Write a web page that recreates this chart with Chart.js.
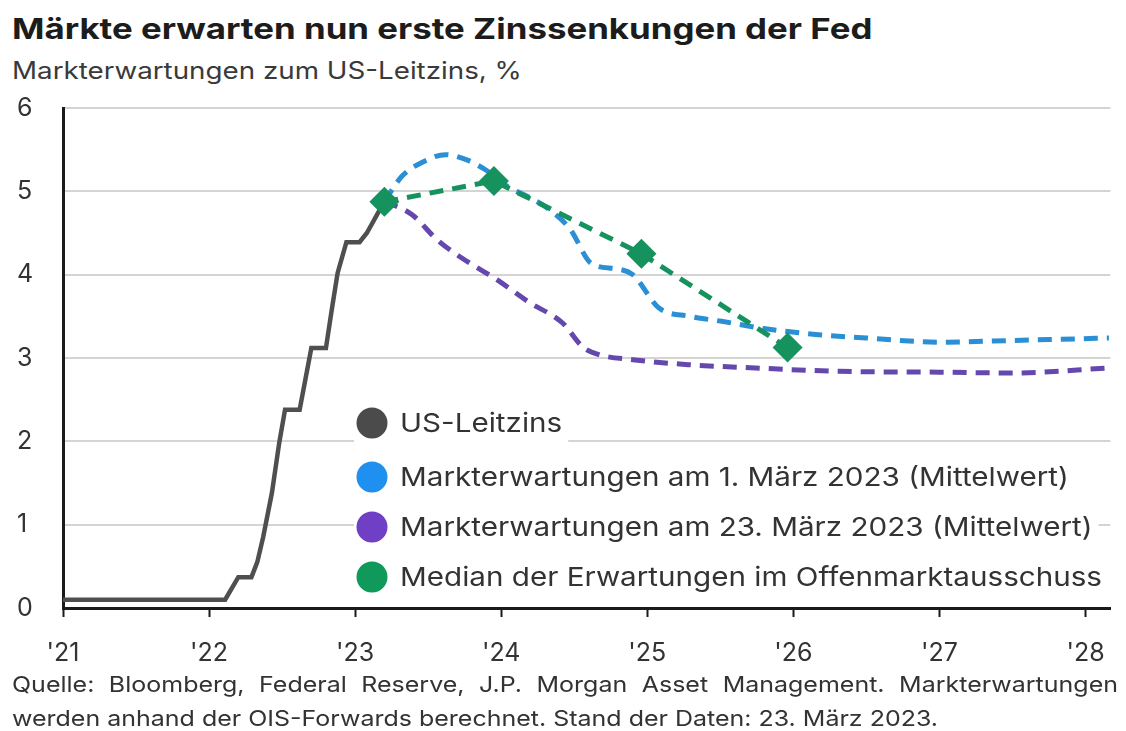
<!DOCTYPE html>
<html lang="de">
<head>
<meta charset="utf-8">
<title>Märkte erwarten nun erste Zinssenkungen der Fed</title>
<script src="https://cdn.jsdelivr.net/npm/chart.js@4.4.1/dist/chart.umd.min.js"></script>
<style>
  html, body { margin: 0; padding: 0; background: #fff; }
  body { width: 1126px; height: 731px; position: relative; overflow: hidden; font-family: Inter, "Noto Sans", sans-serif; color: #2b2b2b; }
  .fit { position: absolute; left: 12px; white-space: nowrap; transform-origin: 0 0; }
  #titel { top: 11px; font-size: 29px; font-weight: 700; color: #1c1c1c; }
  #untertitel { top: 56px; font-size: 24px; color: #3a3a3a; }
  #wrap { position: absolute; left: 0; top: 0; width: 1126px; height: 731px; }
  #fuss { position: absolute; left: 12px; top: 667px; font-size: 22px; line-height: 34px; color: #333; transform-origin: 0 0; }
  #zeile1 { text-align: justify; text-align-last: justify; white-space: nowrap; }
  #zeile2 { white-space: nowrap; }
</style>
</head>
<body>
<div id="titel" class="fit">Märkte erwarten nun erste Zinssenkungen der Fed</div>
<div id="untertitel" class="fit">Markterwartungen zum US-Leitzins, %</div>
<div id="wrap"><canvas id="grafico"></canvas></div>
<div id="fuss">
  <div id="zeile1">Quelle: Bloomberg, Federal Reserve, J.P. Morgan Asset Management. Markterwartungen</div>
  <div id="zeile2"><span id="z2text">werden anhand der OIS-Forwards berechnet. Stand der Daten: 23. März 2023.</span></div>
</div>
<script>
// US-Leitzins (x = Jahr als Dezimalzahl)
var leitzinsX = [2021.0, 2022.11, 2022.20, 2022.29, 2022.33, 2022.37, 2022.43, 2022.48, 2022.52, 2022.62, 2022.70, 2022.80, 2022.84, 2022.88, 2022.94, 2023.03, 2023.08, 2023.15, 2023.20];
var leitzinsY = [0.1, 0.1, 0.37, 0.37, 0.55, 0.85, 1.38, 1.98, 2.38, 2.38, 3.12, 3.12, 3.58, 4.02, 4.39, 4.39, 4.5, 4.72, 4.88];

// Markterwartungen am 1. März 2023
var maerz1X = [2023.20, 2023.32, 2023.46, 2023.62, 2023.76, 2023.90, 2024.05, 2024.20, 2024.33, 2024.47, 2024.62, 2024.79, 2024.90, 2025.08, 2025.29, 2025.51, 2025.81, 2026.17, 2026.50, 2027.00, 2027.50, 2028.16];
var maerz1Y = [4.88, 5.18, 5.35, 5.44, 5.38, 5.25, 5.05, 4.92, 4.78, 4.55, 4.13, 4.07, 4.00, 3.60, 3.50, 3.44, 3.35, 3.28, 3.24, 3.19, 3.21, 3.24];

// Markterwartungen am 23. März 2023
var maerz23X = [2023.20, 2023.39, 2023.56, 2023.73, 2023.97, 2024.19, 2024.42, 2024.56, 2024.67, 2024.90, 2025.28, 2025.74, 2026.31, 2027.00, 2027.50, 2028.16];
var maerz23Y = [4.88, 4.72, 4.42, 4.20, 3.94, 3.67, 3.42, 3.13, 3.04, 2.98, 2.92, 2.88, 2.84, 2.83, 2.82, 2.88];

// Median der Erwartungen im Offenmarktausschuss
var medianX = [2023.20, 2023.95, 2024.96, 2025.96];
var medianY = [4.875, 5.125, 4.25, 3.125];

var jahre = [2021, 2022, 2023, 2024, 2025, 2026, 2027, 2028];
var yTicks = [0, 1, 2, 3, 4, 5, 6];

var legendLabels = ['US-Leitzins', 'Markterwartungen am 1. März 2023 (Mittelwert)', 'Markterwartungen am 23. März 2023 (Mittelwert)', 'Median der Erwartungen im Offenmarktausschuss'];
var legendColors = ['#4b4b4b', '#1f8ff0', '#6f3fc6', '#0f9a5c'];

function punkte(xs, ys) {
    var out = [];
    for (var i = 0; i < xs.length; i++) out.push({ x: xs[i], y: ys[i] });
    return out;
}

function fit(el, target) {
    var w = el.scrollWidth;
    el.style.transform = 'scaleX(' + (target / w) + ')';
}

fit(document.getElementById('titel'), 860);
fit(document.getElementById('untertitel'), 510);

// Fußnote: zweite Zeile bestimmt die Stauchung, erste Zeile im Blocksatz
var fuss = document.getElementById('fuss');
var z2w = document.getElementById('z2text').getBoundingClientRect().width;
var s = 926 / z2w;
fuss.style.width = (1106 / s) + 'px';
fuss.style.transform = 'scaleX(' + s + ')';

var zeilenY = [423, 477, 527, 577];

var zinsLegend = {
    id: 'zinsLegend',
    afterDatasetsDraw: function (chart) {
        var ctx = chart.ctx;
        ctx.save();
        ctx.font = '26px Inter';
        var widest = 0;
        legendLabels.forEach(function (t) { widest = Math.max(widest, ctx.measureText(t).width); });
        var sx = 702 / widest;
        legendLabels.forEach(function (t, i) {
            var y = zeilenY[i];
            var w = ctx.measureText(t).width * sx;
            ctx.fillStyle = '#fff';
            ctx.fillRect(354, y - 19, w + 52, 38);
            ctx.beginPath();
            ctx.arc(372, y, 15.5, 0, Math.PI * 2);
            ctx.fillStyle = legendColors[i];
            ctx.fill();
            ctx.save();
            ctx.translate(400, y + 1);
            ctx.scale(sx, 1);
            ctx.fillStyle = '#333';
            ctx.textBaseline = 'middle';
            ctx.fillText(t, 0, 0);
            ctx.restore();
        });
        ctx.restore();
    }
};

var tickFont = { family: 'Inter', size: 25 };

new Chart(document.getElementById('grafico'), {
    type: 'line',
    data: {
        datasets: [
            {
                label: legendLabels[3],
                data: punkte(medianX, medianY),
                borderColor: '#16925f',
                backgroundColor: '#16925f',
                borderWidth: 5,
                borderDash: [14, 9],
                pointStyle: 'rectRot',
                pointRadius: 15,
                pointBorderWidth: 0,
                tension: 0,
                order: 0
            },
            {
                label: legendLabels[1],
                data: punkte(maerz1X, maerz1Y),
                borderColor: '#2a8fd4',
                borderWidth: 5,
                borderDash: [14, 9],
                pointRadius: 0,
                cubicInterpolationMode: 'monotone',
                order: 1
            },
            {
                label: legendLabels[2],
                data: punkte(maerz23X, maerz23Y),
                borderColor: '#6548ae',
                borderWidth: 5,
                borderDash: [14, 9],
                pointRadius: 0,
                cubicInterpolationMode: 'monotone',
                order: 2
            },
            {
                label: legendLabels[0],
                data: punkte(leitzinsX, leitzinsY),
                borderColor: '#4f4f4f',
                borderWidth: 4.5,
                pointRadius: 0,
                tension: 0,
                order: 3
            }
        ]
    },
    options: {
        responsive: true,
        maintainAspectRatio: false,
        animation: false,
        layout: { padding: { top: 108, left: 17, right: 7, bottom: 8 } },
        plugins: {
            legend: { display: false },
            tooltip: { enabled: false }
        },
        scales: {
            x: {
                type: 'linear',
                min: 2021,
                max: 2028.17,
                afterBuildTicks: function (scale) {
                    scale.ticks = jahre.map(function (v) { return { value: v }; });
                },
                afterFit: function (scale) { scale.height = 115; },
                border: { color: '#1a1a1a', width: 3 },
                grid: { drawOnChartArea: false, color: '#1a1a1a', tickLength: 9, tickWidth: 2 },
                ticks: {
                    font: tickFont,
                    color: '#333',
                    padding: 21,
                    maxRotation: 0,
                    callback: function (v) { return "'" + String(v).slice(2); }
                }
            },
            y: {
                min: 0,
                max: 6,
                afterBuildTicks: function (scale) {
                    scale.ticks = yTicks.map(function (v) { return { value: v }; });
                },
                afterFit: function (scale) { scale.width = 46; },
                border: { color: '#1a1a1a', width: 3 },
                grid: {
                    drawTicks: false,
                    lineWidth: 2,
                    color: function (c) { return c.tick && c.tick.value === 0 ? 'rgba(0,0,0,0)' : '#d4d4d4'; }
                },
                ticks: {
                    font: tickFont,
                    color: '#333',
                    crossAlign: 'far',
                    padding: 0
                }
            }
        }
    },
    plugins: [zinsLegend]
});
</script>
</body>
</html>
